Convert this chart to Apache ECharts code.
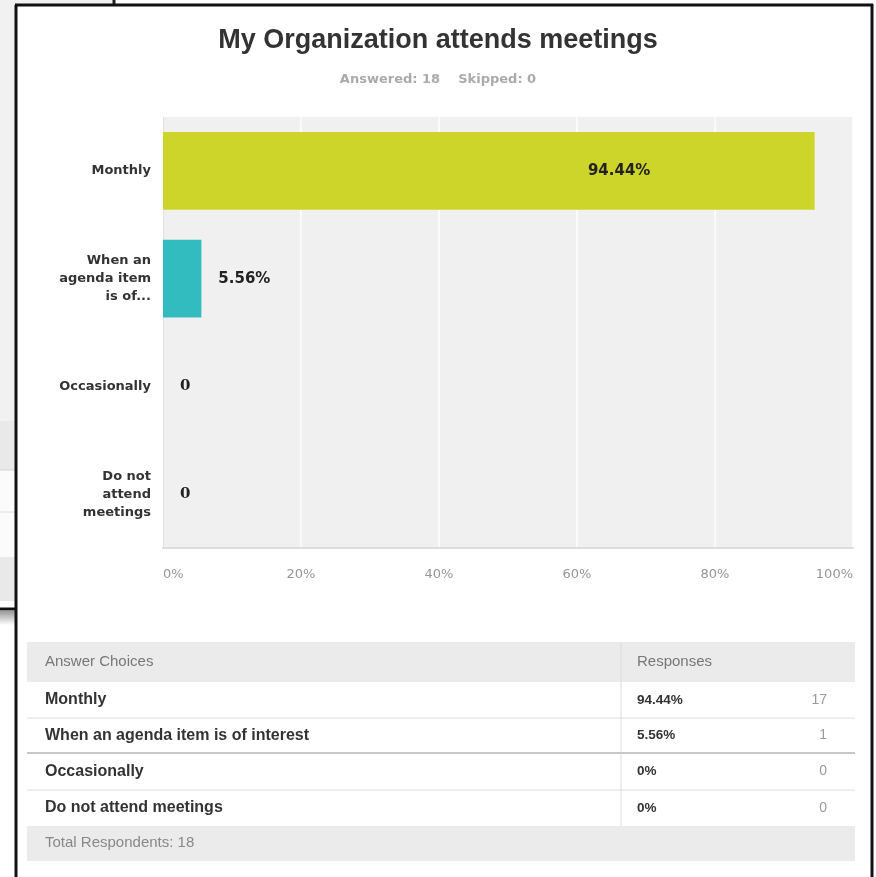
<!DOCTYPE html>
<html>
<head>
<meta charset="utf-8">
<script src="https://cdn.jsdelivr.net/npm/echarts@6/dist/echarts.min.js"></script>
<style>
  html, body { margin: 0; padding: 0; background: #fff; }
  #chart { width: 876px; height: 877px; }
</style>
</head>
<body>
<div id="chart"></div>
<script>
// chart data
const categories = ['Monthly', 'When an\nagenda item\nis of...', 'Occasionally', 'Do not\nattend\nmeetings'];
const percentValues = [94.44, 5.56, 0, 0];
const barColors = ['#cdd42a', '#33bcbf', '#cdd42a', '#33bcbf'];
const xTicks = [0, 20, 40, 60, 80, 100];

// table data
const tableChoices = ['Monthly', 'When an agenda item is of interest', 'Occasionally', 'Do not attend meetings'];
const tablePercents = ['94.44%', '5.56%', '0%', '0%'];
const tableCounts = [17, 1, 0, 0];
const totalRespondents = 18;
const skipped = 0;

const chart = echarts.init(document.getElementById('chart'));

// bars: big one gets its label inside, the rest to the right
const barData = percentValues.map((v, i) => {
  const inside = v > 50;
  return {
    value: v,
    itemStyle: {color: barColors[i]},
    label: inside
      ? {position: ['70%', '50%'], align: 'center', verticalAlign: 'middle'}
      : {position: 'right', distance: 17, fontFamily: v === 0 ? 'DejaVu Serif' : 'DejaVu Sans'}
  };
});

// table built from graphic elements
const tableLeft = 27, tableRight = 855, divX = 621;
const rowY = [682, 718, 753, 790, 826];
const g = [];
g.push({type: 'rect', shape: {x: tableLeft, y: 642, width: tableRight - tableLeft, height: 40}, style: {fill: '#ebebeb'}});
g.push({type: 'rect', shape: {x: tableLeft, y: 826, width: tableRight - tableLeft, height: 35}, style: {fill: '#ebebeb'}});
g.push({type: 'line', shape: {x1: divX, y1: 642, x2: divX, y2: 826}, style: {stroke: '#dcdcdc', lineWidth: 1}});
[718, 790].forEach(y => g.push({type: 'line', shape: {x1: tableLeft, y1: y, x2: tableRight, y2: y}, style: {stroke: '#dedede', lineWidth: 1}}));
g.push({type: 'line', shape: {x1: tableLeft, y1: 753, x2: tableRight, y2: 753}, style: {stroke: '#c8c8c8', lineWidth: 2}});
g.push({type: 'text', x: 45, y: 662, style: {text: 'Answer Choices', fill: '#777', font: '15px "Liberation Sans"', textVerticalAlign: 'middle'}});
g.push({type: 'text', x: 637, y: 662, style: {text: 'Responses', fill: '#777', font: '15px "Liberation Sans"', textVerticalAlign: 'middle'}});
tableChoices.forEach((c, i) => {
  const cy = (rowY[i] + rowY[i + 1]) / 2;
  g.push({type: 'text', x: 45, y: cy, style: {text: c, fill: '#333', font: 'bold 16px "Liberation Sans"', textVerticalAlign: 'middle'}});
  g.push({type: 'text', x: 637, y: cy, style: {text: tablePercents[i], fill: '#333', font: 'bold 13.5px "Liberation Sans"', textVerticalAlign: 'middle'}});
  g.push({type: 'text', x: 827, y: cy, style: {text: String(tableCounts[i]), fill: '#999', font: '14px "Liberation Sans"', textAlign: 'right', textVerticalAlign: 'middle'}});
});
g.push({type: 'text', x: 45, y: 843, style: {text: 'Total Respondents: ' + totalRespondents, fill: '#888', font: '15px "Liberation Sans"', textVerticalAlign: 'middle'}});

// screenshot frame and the window peeking out behind it
g.push({type: 'rect', shape: {x: 0, y: 0, width: 16, height: 421}, style: {fill: '#f1f1f1'}});
g.push({type: 'rect', shape: {x: 0, y: 0, width: 113, height: 5}, style: {fill: '#f1f1f1'}});
g.push({type: 'rect', shape: {x: 0, y: 421, width: 16, height: 49}, style: {fill: '#e9e9e9'}});
g.push({type: 'rect', shape: {x: 0, y: 470, width: 16, height: 87}, style: {fill: '#fbfbfb'}});
g.push({type: 'line', shape: {x1: 0, y1: 512, x2: 16, y2: 512}, style: {stroke: '#dcdcdc', lineWidth: 1}});
g.push({type: 'line', shape: {x1: 0, y1: 470, x2: 16, y2: 470}, style: {stroke: '#d4d4d4', lineWidth: 1}});
g.push({type: 'rect', shape: {x: 0, y: 557, width: 16, height: 44}, style: {fill: '#e9e9e9'}});
g.push({type: 'line', shape: {x1: 0, y1: 609, x2: 16, y2: 609}, style: {stroke: '#111', lineWidth: 3}});
g.push({type: 'rect', shape: {x: 0, y: 611, width: 16, height: 14}, style: {fill: new echarts.graphic.LinearGradient(0, 0, 0, 1, [{offset: 0, color: '#999'}, {offset: 1, color: '#fff'}])}});
g.push({type: 'line', shape: {x1: 114, y1: 0, x2: 114, y2: 5}, style: {stroke: '#222', lineWidth: 3}});
g.push({type: 'line', shape: {x1: 16, y1: 5, x2: 16, y2: 877}, style: {stroke: '#111', lineWidth: 3}});
g.push({type: 'line', shape: {x1: 15, y1: 5, x2: 873, y2: 5}, style: {stroke: '#111', lineWidth: 3}});
g.push({type: 'line', shape: {x1: 872, y1: 4, x2: 872, y2: 877}, style: {stroke: '#111', lineWidth: 3}});

const option = {
  backgroundColor: '#fff',
  title: [{
    text: 'My Organization attends meetings',
    left: 'center',
    top: 22,
    padding: [5, 0, 5, 8],
    textStyle: {fontFamily: 'Liberation Sans', fontWeight: 'bold', fontSize: 27, color: '#333'}
  }, {
    text: 'Answered: ' + totalRespondents + '    Skipped: ' + skipped,
    left: 'center',
    top: 68,
    padding: [5, 0, 5, 8],
    textStyle: {fontFamily: 'DejaVu Sans', fontWeight: 'bold', fontSize: 13, color: '#aaa'}
  }],
  grid: {
    left: 163, right: 23, top: 117, bottom: 329,
    show: true, backgroundColor: '#f0f0f0', borderWidth: 0
  },
  xAxis: {
    type: 'value',
    min: xTicks[0],
    max: xTicks[xTicks.length - 1],
    interval: 20,
    axisLine: {show: true, lineStyle: {color: '#dddddd', width: 2}},
    axisTick: {show: false},
    splitLine: {show: true, lineStyle: {color: '#ffffff', width: 1.5}},
    axisLabel: {
      formatter: '{value}%',
      margin: 20,
      color: '#959595',
      fontSize: 13,
      fontFamily: 'DejaVu Sans',
      alignMinLabel: 'left',
      alignMaxLabel: 'right'
    }
  },
  yAxis: {
    type: 'category',
    data: categories,
    inverse: true,
    axisLine: {show: true, lineStyle: {color: '#e2e2e2', width: 1}},
    axisTick: {show: false},
    axisLabel: {
      margin: 12,
      color: '#333',
      fontSize: 13,
      fontWeight: 'bold',
      fontFamily: 'DejaVu Sans',
      lineHeight: 18,
      align: 'right'
    }
  },
  series: [{
    type: 'bar',
    data: barData,
    barCategoryGap: '28%',
    label: {
      show: true,
      color: '#222',
      fontSize: 15,
      fontWeight: 'bold',
      fontFamily: 'DejaVu Sans',
      formatter: p => p.value > 0 ? p.value.toFixed(2) + '%' : '0'
    },
    animation: false
  }],
  graphic: {elements: g},
  animation: false
};

chart.setOption(option);
</script>
</body>
</html>
